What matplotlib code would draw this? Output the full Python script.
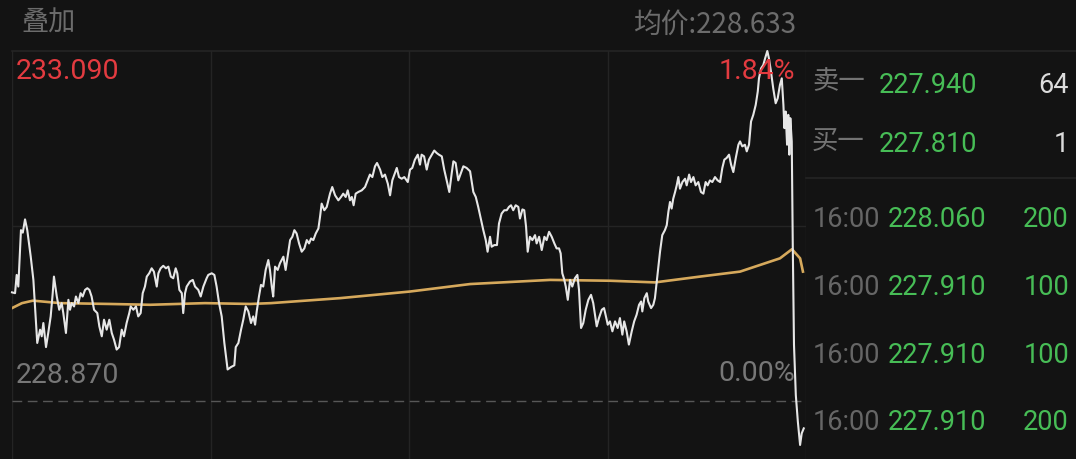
import matplotlib.pyplot as plt
from matplotlib.lines import Line2D

W, H = 1076, 459

# price header values
prev_close = 228.870
high_price = 233.090
avg_label = "均价:228.633"
high_pct = "1.84%"
base_pct = "0.00%"
session_minutes = 390

# intraday price, minutes since the open
minutes = [
    0, 1.5, 2.3, 3.1, 4.4, 5.3, 6.4, 7.5, 9.2, 10.5,
    11.8, 12.4, 13.8, 14.6, 15.4, 16.7, 17.8, 19.0, 20.0, 20.6,
    22.0, 23.2, 24.4, 25.2, 26.5, 27.7, 28.5, 29.3, 30.5, 31.4,
    32.6, 33.7, 34.7, 35.9, 37.0, 38.0, 39.1, 40.3, 41.9, 42.9,
    44.1, 45.2, 46.5, 47.8, 49.0, 50.1, 51.4, 52.6, 53.9, 55.0,
    56.3, 57.6, 58.3, 59.6, 60.9, 62.0, 63.2, 64.2, 65.3, 66.2,
    67.4, 68.6, 69.7, 71.1, 71.9, 73.0, 74.3, 75.6, 76.8, 78.0,
    79.2, 80.4, 81.2, 82.2, 83.4, 84.1, 85.0, 85.8, 87.4, 88.8,
    89.9, 91.5, 92.7, 94.0, 95.6, 96.4, 98.1, 99.4, 100.5, 101.7,
    103.0, 104.3, 105.9, 107.6, 109.2, 109.9, 111.2, 112.5, 113.6, 114.8,
    116.1, 117.4, 118.5, 119.4, 120.2, 121.3, 122.3, 123.4, 124.6, 125.9,
    126.7, 127.6, 128.3, 129.2, 130.5, 131.6, 133.3, 134.4, 135.4, 136.6,
    137.7, 138.7, 139.8, 141.0, 142.3, 143.6, 144.8, 145.9, 146.9, 148.0,
    149.2, 150.5, 151.3, 152.1, 153.4, 154.6, 156.2, 157.3, 158.7, 160.3,
    161.6, 162.7, 163.9, 164.9, 166.0, 166.9, 167.8, 168.8, 170.1, 171.8,
    173.4, 174.7, 175.8, 177.0, 178.3, 179.3, 180.8, 181.9, 183.2, 184.6,
    185.7, 186.8, 188.1, 189.0, 190.1, 191.4, 192.7, 194.4, 195.5, 196.6,
    197.9, 199.3, 200.4, 201.2, 202.4, 203.7, 204.8, 206.2, 207.4, 208.6,
    209.7, 211.1, 212.3, 213.5, 214.8, 216.0, 216.8, 217.9, 219.2, 220.5,
    221.7, 223.3, 225.0, 226.6, 227.8, 229.0, 230.4, 231.5, 232.7, 233.6,
    234.8, 235.6, 236.9, 238.2, 239.2, 240.5, 241.8, 243.0, 244.1, 245.1,
    246.2, 247.4, 248.7, 249.5, 250.7, 251.6, 252.5, 253.3, 254.4, 255.6,
    256.9, 257.7, 258.9, 260.2, 261.5, 262.6, 263.8, 265.1, 266.4, 267.5,
    268.7, 269.5, 270.3, 271.3, 272.0, 273.0, 274.1, 275.2, 276.5, 277.7,
    278.5, 279.5, 280.6, 281.8, 283.1, 284.4, 285.5, 287.2, 288.3, 289.7,
    290.8, 292.1, 292.6, 293.7, 294.9, 296.2, 297.5, 298.6, 299.8, 300.7,
    301.9, 303.0, 304.4, 305.6, 306.8, 308.0, 309.0, 309.6, 310.6, 311.8,
    312.5, 313.9, 315.0, 315.8, 317.2, 318.3, 319.4, 320.7, 321.6, 322.4,
    323.2, 324.0, 324.8, 325.7, 326.5, 327.3, 328.1, 329.3, 330.6, 331.4,
    332.6, 333.5, 334.7, 335.8, 337.1, 338.4, 339.6, 340.7, 341.7, 342.8,
    344.0, 345.3, 346.6, 347.8, 348.9, 349.9, 351.0, 352.2, 353.2, 354.3,
    355.5, 356.8, 357.6, 358.7, 360.0, 360.9, 362.0, 363.0, 364.1, 365.3,
    366.3, 366.9, 367.9, 369.0, 369.9, 371.0, 371.8, 372.8, 373.9, 375.1,
    376.1, 377.2, 378.1, 378.9, 379.4, 380.0, 380.7, 381.3, 381.8, 382.3,
    383.0, 383.5, 384.1, 385.0, 386.0, 387.1, 387.9, 388.9,
]
price = [
    230.18, 230.17, 230.39, 230.25, 230.93, 230.90, 231.06, 230.93, 230.61, 230.33,
    229.81, 229.57, 229.73, 229.65, 229.81, 229.52, 229.69, 229.89, 230.17, 230.37,
    230.13, 229.97, 230.05, 229.93, 229.69, 230.09, 229.97, 230.05, 230.01, 230.13,
    230.05, 230.17, 230.13, 230.21, 230.23, 230.21, 230.13, 229.97, 229.93, 229.77,
    229.65, 229.85, 229.73, 229.85, 229.69, 229.61, 229.49, 229.52, 229.73, 229.65,
    229.81, 229.93, 230.01, 229.97, 230.01, 229.89, 229.93, 230.17, 230.25, 230.37,
    230.41, 230.47, 230.43, 230.25, 230.41, 230.47, 230.50, 230.47, 230.49, 230.37,
    230.35, 230.47, 230.41, 230.21, 230.17, 229.93, 230.17, 230.25, 230.31, 230.33,
    230.25, 230.21, 230.13, 230.25, 230.35, 230.39, 230.41, 230.39, 230.25, 230.05,
    229.89, 229.57, 229.25, 229.28, 229.30, 229.52, 229.57, 229.73, 229.85, 230.01,
    229.95, 229.81, 229.89, 229.79, 229.95, 230.13, 230.27, 230.25, 230.45, 230.57,
    230.45, 230.25, 230.13, 230.49, 230.45, 230.53, 230.61, 230.45, 230.61, 230.81,
    230.85, 230.93, 230.89, 230.77, 230.67, 230.71, 230.81, 230.77, 230.83, 230.81,
    230.89, 230.95, 231.09, 231.25, 231.17, 231.21, 231.37, 231.45, 231.35, 231.29,
    231.33, 231.37, 231.33, 231.41, 231.29, 231.33, 231.23, 231.37, 231.39, 231.41,
    231.45, 231.53, 231.60, 231.57, 231.70, 231.74, 231.66, 231.57, 231.60, 231.49,
    231.35, 231.53, 231.62, 231.68, 231.57, 231.55, 231.57, 231.51, 231.66, 231.68,
    231.78, 231.84, 231.72, 231.84, 231.82, 231.66, 231.78, 231.84, 231.89, 231.86,
    231.84, 231.82, 231.66, 231.53, 231.39, 231.62, 231.76, 231.74, 231.53, 231.62,
    231.70, 231.68, 231.64, 231.39, 231.33, 231.21, 231.05, 230.93, 230.81, 230.67,
    230.85, 230.73, 230.75, 230.75, 231.01, 231.13, 231.17, 231.17, 231.21, 231.23,
    231.17, 231.23, 231.21, 231.07, 231.18, 231.17, 230.97, 230.67, 230.85, 230.81,
    230.87, 230.77, 230.85, 230.69, 230.85, 230.81, 230.91, 230.85, 230.77, 230.71,
    230.71, 230.65, 230.41, 230.33, 230.25, 230.09, 230.33, 230.25, 230.35, 230.39,
    230.21, 229.75, 229.81, 229.97, 230.09, 230.15, 230.05, 229.77, 229.87, 229.97,
    229.99, 229.85, 229.79, 229.83, 229.71, 229.83, 229.75, 229.87, 229.67, 229.83,
    229.71, 229.55, 229.71, 229.83, 229.91, 230.03, 230.07, 229.95, 230.11, 230.17,
    230.07, 229.99, 230.03, 230.11, 230.43, 230.67, 230.87, 230.93, 230.99, 231.15,
    231.27, 231.19, 231.31, 231.39, 231.47, 231.57, 231.43, 231.51, 231.55, 231.47,
    231.60, 231.51, 231.57, 231.47, 231.51, 231.39, 231.37, 231.51, 231.47, 231.53,
    231.51, 231.57, 231.53, 231.51, 231.68, 231.78, 231.80, 231.84, 231.72, 231.63,
    231.80, 231.96, 232.00, 231.94, 231.96, 231.88, 231.96, 232.24, 232.32, 232.44,
    232.60, 232.76, 232.88, 232.92, 233.00, 233.09, 233.00, 232.84, 232.64, 232.46,
    232.52, 232.68, 232.76, 232.44, 232.16, 232.36, 231.96, 232.32, 231.84, 232.28,
    232.00, 230.75, 229.55, 228.94, 228.62, 228.34, 228.48, 228.54,
]

# average price line
avg_minutes = [0, 4.9, 10.3, 23.6, 48.1, 67.8, 94.8, 116.9, 127.2, 161.1, 195.5,
               225.0, 264.3, 293.7, 315.8, 337.9, 357.6, 367.4, 377.2, 383.1, 387.1, 388.5]
avg_price = [229.99, 230.05, 230.08, 230.05, 230.04, 230.03, 230.05, 230.04, 230.05, 230.11, 230.19,
             230.28, 230.33, 230.32, 230.30, 230.37, 230.43, 230.51, 230.59, 230.70, 230.59, 230.43]

# order book / trades panel
quote_labels = ["卖一", "买一"]
quote_prices = ["227.940", "227.810"]
quote_sizes = ["64", "1"]
trade_times = ["16:00", "16:00", "16:00", "16:00"]
trade_prices = ["228.060", "227.910", "227.910", "227.910"]
trade_sizes = ["200", "100", "100", "200"]

BG = "#131313"
GRID = "#242424"
GRAY = "#737373"
RED = "#e33b40"
GREEN = "#47bd56"
CJK = ["Noto Sans CJK SC", "DejaVu Sans"]
NUM = ["Roboto", "DejaVu Sans"]

fig = plt.figure(figsize=(W / 100, H / 100), dpi=100, facecolor=BG)

# chart area: x 12..806 px, y 51..459 px from top
ax = fig.add_axes([12 / W, 0, 794 / W, 408 / H])
ax.set_facecolor(BG)
for s in ax.spines.values():
    s.set_visible(False)
ax.set_xticks([])
ax.set_yticks([])
ax.set_xlim(0, session_minutes)
span = high_price - prev_close
ax.set_ylim(prev_close - span * 58 / 350, high_price)

for q in [0, 0.25, 0.5, 0.75, 1.0]:
    ax.axvline(session_minutes * q, color=GRID, lw=1, zorder=1)
ax.axhline(high_price, color=GRID, lw=1.2, zorder=1, clip_on=False)
ax.axhline(prev_close + span / 2, color=GRID, lw=1, zorder=1)
ax.axhline(prev_close, color="#575757", lw=1, dashes=(7, 4), zorder=1)

ax.plot(avg_minutes, avg_price, color="#d6a95c", lw=1.9, zorder=3)
ax.plot(minutes, price, color="#e6e6e6", lw=1.5, zorder=4, clip_on=False)

# panel lines on the right
fig.add_artist(Line2D([806 / W, 1], [1 - 51 / H] * 2, color=GRID, lw=1.2))
fig.add_artist(Line2D([806 / W, 1], [1 - 178 / H] * 2, color=GRID, lw=1.2))


def put(x, y, s, color, size, ha="left", va="baseline", family=NUM):
    fig.text(x / W, 1 - y / H, s, color=color, fontsize=size, ha=ha, va=va, family=family)


put(21, 23, "叠加", "#6c6c6c", 19.5, va="center", family=CJK)
put(797, 33, avg_label, "#6c6c6c", 20, ha="right", family=CJK)

put(16, 79, f"{high_price:.3f}", RED, 20.5)
put(795, 79, high_pct, RED, 20.5, ha="right")
put(16, 383, f"{prev_close:.3f}", "#777777", 20.5)
put(795, 381, base_pct, "#777777", 20.5, ha="right")

for i, (lab, p, sz) in enumerate(zip(quote_labels, quote_prices, quote_sizes)):
    yb = 93 + i * 59
    put(812, yb - 11, lab, GRAY, 19, va="center", family=CJK)
    put(879, yb, p, GREEN, 19.5)
    put(1069, yb, sz, "#dcdcdc", 19.5, ha="right")

for i, (t, p, sz) in enumerate(zip(trade_times, trade_prices, trade_sizes)):
    yb = [227, 295, 363, 430][i]
    put(813, yb, t, "#666666", 19.5)
    put(888, yb, p, GREEN, 19.5)
    put(1069, yb, sz, GREEN, 19.5, ha="right")

fig.savefig("out.png", dpi=100, facecolor=BG)
